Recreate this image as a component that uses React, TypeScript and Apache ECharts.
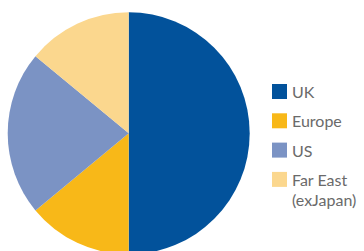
import React, { useEffect, useRef } from "react";
import * as echarts from "echarts";

const categories = ["UK", "Europe", "US", "Far East"];
const legendLabels = ["UK", "Europe", "US", "Far East\n(exJapan)"];
const values = [50, 14, 22, 14];
const colors = ["#02529B", "#F8B818", "#7B93C4", "#FBD78E"];

export default function App() {
  const ref = useRef<HTMLDivElement>(null);
  useEffect(() => {
    if (!ref.current) return;
    const chart = echarts.init(ref.current, null, { renderer: "svg" });
    const legendGraphics: any[] = [];
    categories.forEach((c, i) => {
      const top = 84 + i * 29.3;
      legendGraphics.push({
        type: "rect",
        shape: { x: 272, y: top, width: 15, height: 15 },
        style: { fill: colors[i] },
      });
      legendGraphics.push({
        type: "text",
        x: 292,
        y: top - 2.5,
        style: {
          text: legendLabels[i],
          fill: "#6a6a6a",
          font: "16px Lato",
          lineHeight: 20,
          textVerticalAlign: "top",
        },
      });
    });
    chart.setOption({
      animation: false,
      backgroundColor: "#ffffff",
      series: [
        {
          type: "pie",
          center: [128.7, 133.3],
          radius: [0, 121],
          startAngle: 90,
          clockwise: true,
          label: { show: false },
          labelLine: { show: false },
          emphasis: { disabled: true },
          itemStyle: { borderWidth: 0 },
          data: categories.map((c, i) => ({
            name: c,
            value: values[i],
            itemStyle: { color: colors[i] },
          })),
        },
      ],
      graphic: legendGraphics,
    });
    return () => chart.dispose();
  }, []);
  return (
    <div
      ref={ref}
      style={{ position: "fixed", left: 0, top: 0, width: 364, height: 251 }}
    />
  );
}
